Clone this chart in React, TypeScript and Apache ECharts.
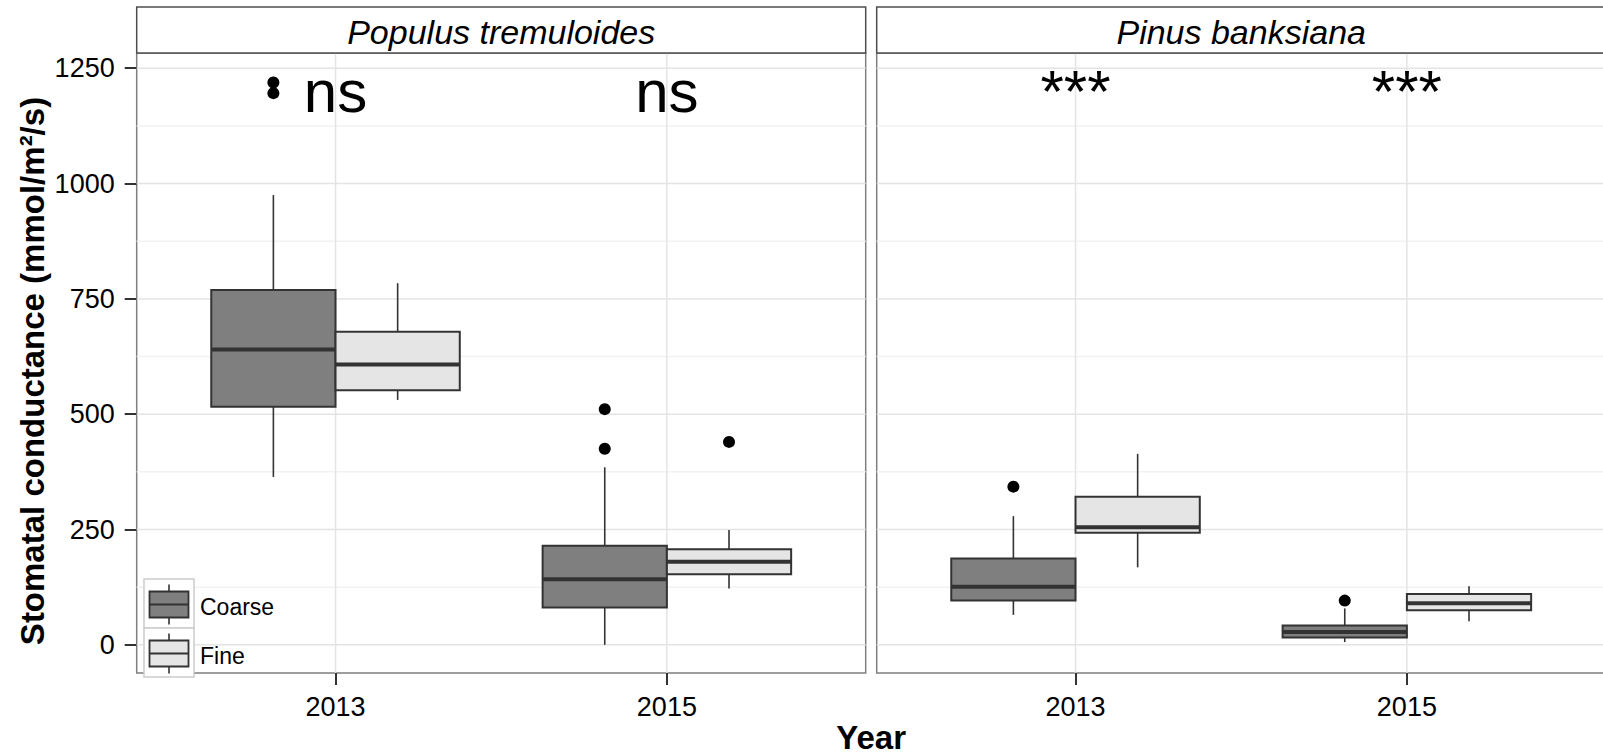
import React, { useEffect, useRef } from "react";
import * as echarts from "echarts";

// ---------- data ----------
const years = ["2013", "2015"];
const species = ["Populus tremuloides", "Pinus banksiana"];
const textures = ["Coarse", "Fine"];
const textureFills = ["#7f7f7f", "#e5e5e5"];

// per year: [lower whisker, Q1, median, Q3, upper whisker]
const populusCoarse = [
  [364, 516, 640, 769, 975],
  [0, 81, 142, 215, 385],
];
const populusFine = [
  [531, 552, 608, 679, 784],
  [122, 153, 180, 207, 249],
];
const pinusCoarse = [
  [65, 96, 126, 187, 279],
  [6, 16, 28, 42, 79],
];
const pinusFine = [
  [168, 243, 255, 321, 414],
  [51, 75, 90, 110, 127],
];

// per year: outlier values
const populusCoarseOutliers = [[1219, 1196], [511, 425]];
const populusFineOutliers = [[], [440]];
const pinusCoarseOutliers = [[343], [96]];
const pinusFineOutliers = [[], []];

const populusSignif = ["ns", "ns"];
const pinusSignif = ["***", "***"];
const signifY = 1200;

const yTicks = [0, 250, 500, 750, 1000, 1250];
const yMinorTicks = [125, 375, 625, 875, 1125];
const yMin = -61;
const yMax = 1283;

const yTitle = "Stomatal conductance (mmol/m\u00B2/s)";
const xTitle = "Year";

// ---------- layout ----------
const FONT = "Liberation Sans, Arial, sans-serif";
const PANEL_LEFT = [136.7, 876.7];
const PANEL_W = 729;
const PANEL_TOP = 53;
const PANEL_H = 620;
const STRIP_TOP = 7;
const X_MIN = 0.4;
const X_MAX = 2.6;
const DODGE = 0.375;
const BOX_W = 0.375;
const DARK = "#333333";

const panels = [
  {
    boxes: [populusCoarse, populusFine],
    outliers: [populusCoarseOutliers, populusFineOutliers],
    signif: populusSignif,
  },
  {
    boxes: [pinusCoarse, pinusFine],
    outliers: [pinusCoarseOutliers, pinusFineOutliers],
    signif: pinusSignif,
  },
];

function boxRender(fill: string) {
  return (params: any, api: any) => {
    const x = api.value(0);
    const hw = api.size([BOX_W, 0])[0] / 2;
    const lo = api.coord([x, api.value(1)]);
    const q1 = api.coord([x, api.value(2)])[1];
    const md = api.coord([x, api.value(3)])[1];
    const q3 = api.coord([x, api.value(4)])[1];
    const hi = api.coord([x, api.value(5)])[1];
    const cx = lo[0];
    return {
      type: "group",
      children: [
        { type: "line", shape: { x1: cx, y1: hi, x2: cx, y2: q3 }, style: { stroke: DARK, lineWidth: 1.6 } },
        { type: "line", shape: { x1: cx, y1: q1, x2: cx, y2: lo[1] }, style: { stroke: DARK, lineWidth: 1.6 } },
        {
          type: "rect",
          shape: { x: cx - hw, y: q3, width: hw * 2, height: q1 - q3 },
          style: { fill, stroke: DARK, lineWidth: 2 },
        },
        { type: "line", shape: { x1: cx - hw, y1: md, x2: cx + hw, y2: md }, style: { stroke: DARK, lineWidth: 4 } },
      ],
    };
  };
}

function gridLineRender(params: any, api: any) {
  const cs = params.coordSys;
  const orient = api.value(0);
  const v = api.value(1);
  const major = api.value(2);
  const stroke = major ? "#e4e4e4" : "#f2f2f2";
  if (orient === 0) {
    const y = api.coord([1, v])[1];
    return { type: "line", shape: { x1: cs.x, y1: y, x2: cs.x + cs.width, y2: y }, style: { stroke, lineWidth: 1.5 } };
  }
  const x = api.coord([v, 0])[0];
  return { type: "line", shape: { x1: x, y1: cs.y, x2: x, y2: cs.y + cs.height }, style: { stroke, lineWidth: 1.5 } };
}

function buildOption() {
  const grids: any[] = [];
  const xAxes: any[] = [];
  const yAxes: any[] = [];
  const series: any[] = [];
  const graphics: any[] = [];

  panels.forEach((panel, p) => {
    grids.push({
      left: PANEL_LEFT[p],
      top: PANEL_TOP,
      width: PANEL_W,
      height: PANEL_H,
      show: true,
      backgroundColor: "transparent",
      borderColor: "#7f7f7f",
      borderWidth: 1.5,
      containLabel: false,
      outerBoundsMode: "none",
    });
    xAxes.push({
      type: "value",
      gridIndex: p,
      position: "bottom",
      min: X_MIN,
      max: X_MAX,
      axisLine: { show: false, onZero: false },
      splitLine: { show: false },
      axisTick: {
        show: true,
        customValues: years.map((_, i) => i + 1),
        length: 12,
        lineStyle: { color: DARK, width: 2 },
      },
      axisLabel: {
        show: true,
        customValues: years.map((_, i) => i + 1),
        formatter: (v: number) => years[Math.round(v) - 1] ?? "",
        fontSize: 27,
        lineHeight: 27,
        color: "#000",
        fontFamily: FONT,
        margin: 20,
      },
    });
    yAxes.push({
      type: "value",
      gridIndex: p,
      position: "left",
      min: yMin,
      max: yMax,
      axisLine: { show: false, onZero: false },
      splitLine: { show: false },
      axisTick: {
        show: p === 0,
        customValues: yTicks,
        length: 12,
        lineStyle: { color: DARK, width: 2 },
      },
      axisLabel: {
        show: p === 0,
        customValues: yTicks,
        formatter: (v: number) => String(v),
        fontSize: 27,
        color: "#000",
        fontFamily: FONT,
        margin: 22,
      },
    });

    // background grid lines
    const gridData: number[][] = [
      ...yTicks.map((v) => [0, v, 1]),
      ...yMinorTicks.map((v) => [0, v, 0]),
      ...years.map((_, i) => [1, i + 1, 1]),
    ];
    series.push({
      type: "custom",
      xAxisIndex: p,
      yAxisIndex: p,
      silent: true,
      z: 1,
      renderItem: gridLineRender,
      data: gridData,
    });

    textures.forEach((tex, t) => {
      const offset = (t - 0.5) * DODGE;
      series.push({
        name: tex,
        type: "custom",
        xAxisIndex: p,
        yAxisIndex: p,
        z: 2,
        renderItem: boxRender(textureFills[t]),
        encode: { x: 0, y: [1, 2, 3, 4, 5] },
        data: years.map((_, i) => [i + 1 + offset, ...panel.boxes[t][i]]),
      });
      const outData: number[][] = [];
      years.forEach((_, i) => {
        panel.outliers[t][i].forEach((v: number) => outData.push([i + 1 + offset, v]));
      });
      series.push({
        name: tex + " outliers",
        type: "scatter",
        xAxisIndex: p,
        yAxisIndex: p,
        z: 3,
        symbol: "circle",
        symbolSize: 12,
        itemStyle: { color: "#000", opacity: 1 },
        data: outData,
      });
    });

    series.push({
      type: "scatter",
      xAxisIndex: p,
      yAxisIndex: p,
      z: 4,
      symbolSize: 1,
      itemStyle: { color: "transparent", opacity: 1 },
      label: {
        show: true,
        position: "inside",
        formatter: "{b}",
        fontSize: 60,
        fontFamily: FONT,
        color: "#000",
        opacity: 1,
        align: "center",
        verticalAlign: "middle",
      },
      data: years.map((_, i) => ({ name: panel.signif[i], value: [i + 1, signifY] })),
    });

    // strip
    graphics.push({
      type: "rect",
      shape: { x: PANEL_LEFT[p], y: STRIP_TOP, width: PANEL_W, height: PANEL_TOP - STRIP_TOP },
      style: { fill: "#fff", stroke: "#4d4d4d", lineWidth: 1.5 },
      z: 10,
    });
    graphics.push({
      type: "text",
      x: PANEL_LEFT[p] + PANEL_W / 2,
      y: 32,
      style: {
        text: species[p],
        fontSize: 34,
        fontStyle: "italic",
        fontFamily: FONT,
        fill: "#000",
        align: "center",
        verticalAlign: "middle",
        textAlign: "center",
        textVerticalAlign: "middle",
      },
      z: 11,
    });
  });

  // axis titles
  graphics.push({
    type: "text",
    x: 32,
    y: 371,
    rotation: Math.PI / 2,
    style: {
      text: yTitle,
      fontSize: 33,
      fontWeight: "bold",
      fontFamily: FONT,
      fill: "#000",
      align: "center",
      verticalAlign: "middle",
      textAlign: "center",
      textVerticalAlign: "middle",
    },
    z: 11,
  });
  graphics.push({
    type: "text",
    x: (PANEL_LEFT[0] + PANEL_LEFT[1] + PANEL_W) / 2,
    y: 737,
    style: {
      text: xTitle,
      fontSize: 33,
      fontWeight: "bold",
      fontFamily: FONT,
      fill: "#000",
      align: "center",
      verticalAlign: "middle",
      textAlign: "center",
      textVerticalAlign: "middle",
    },
    z: 11,
  });

  // legend
  const keyX = 144;
  const keyW = 50;
  const keyH = 49;
  const keyTop0 = 579;
  textures.forEach((tex, t) => {
    const top = keyTop0 + t * keyH;
    graphics.push({
      type: "rect",
      shape: { x: keyX, y: top, width: keyW, height: keyH },
      style: { fill: "#fff", stroke: "#cccccc", lineWidth: 1.5 },
      z: 20,
    });
    graphics.push({
      type: "line",
      shape: { x1: keyX + keyW / 2, y1: top + 5.5, x2: keyX + keyW / 2, y2: top + 45.5 },
      style: { stroke: DARK, lineWidth: 1.6 },
      z: 21,
    });
    graphics.push({
      type: "rect",
      shape: { x: keyX + 5.5, y: top + 12.5, width: 39, height: 26 },
      style: { fill: textureFills[t], stroke: DARK, lineWidth: 1.8 },
      z: 22,
    });
    graphics.push({
      type: "line",
      shape: { x1: keyX + 5.5, y1: top + 25.5, x2: keyX + 44.5, y2: top + 25.5 },
      style: { stroke: DARK, lineWidth: 1.8 },
      z: 23,
    });
    graphics.push({
      type: "text",
      x: 200,
      y: top + 27.5,
      style: {
        text: tex,
        fontSize: 23,
        fontFamily: FONT,
        fill: "#000",
        align: "left",
        verticalAlign: "middle",
        textAlign: "left",
        textVerticalAlign: "middle",
      },
      z: 23,
    });
  });

  return {
    animation: false,
    backgroundColor: "#fff",
    textStyle: { fontFamily: FONT },
    grid: grids,
    xAxis: xAxes,
    yAxis: yAxes,
    series,
    graphic: graphics,
  };
}

export default function App() {
  const ref = useRef<HTMLDivElement>(null);
  useEffect(() => {
    document.body.style.margin = "0";
    const chart = echarts.init(ref.current!, null, { renderer: "svg" });
    chart.setOption(buildOption() as any);
    return () => chart.dispose();
  }, []);
  return (
    <div
      ref={ref}
      style={{ width: 1603, height: 755, position: "absolute", left: 0, top: 0, background: "#fff" }}
    />
  );
}
